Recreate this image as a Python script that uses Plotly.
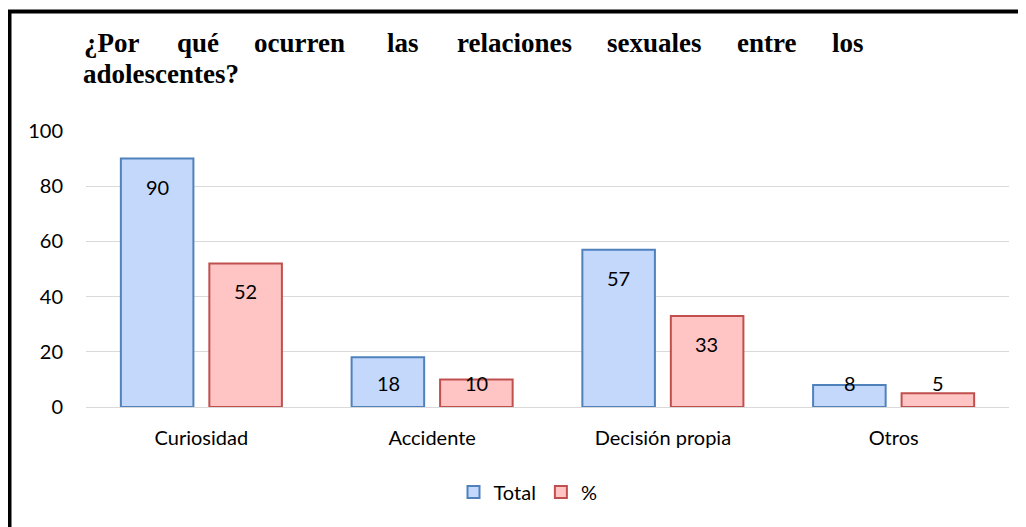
import plotly.graph_objects as go

# datos
categorias = ['Curiosidad', 'Accidente', 'Decisión propia', 'Otros']
total = [90, 18, 57, 8]
porcentaje = [52, 10, 33, 5]
y_ticks = [0, 20, 40, 60, 80, 100]

titulo_linea1 = ['¿Por', 'qué', 'ocurren', 'las', 'relaciones', 'sexuales', 'entre', 'los']
titulo_linea2 = 'adolescentes?'

COLORS = {
    'total_fill': '#c4d8fc',
    'total_line': '#4f81bd',
    'pct_fill': '#ffc4c4',
    'pct_line': '#c0504d',
    'grid': '#d9d9d9',
    'text': '#000000',
}

# la página HTML tiene un margen de 8 px en el body
OFF = 8
W, H = 1026 - OFF, 527 - OFF
# bordes del área de trazado en coordenadas de la ventana
PL, PR, PT, PB = 86, 1009, 131, 407
L, R, T, B = PL - OFF, W - (PR - OFF), PT - OFF, H - (PB - OFF)
PW, PH = PR - PL, PB - PT

def px_x(p):
    return (p - PL) / PW

def px_y(p):
    return (PB - p) / PH

FONT = "Lato, 'Open Sans', sans-serif"
SERIF = "'Liberation Serif', 'Times New Roman', serif"

fig = go.Figure()
fig.add_trace(go.Bar(
    x=categorias, y=total, name='Total',
    marker=dict(color=COLORS['total_fill'], line=dict(color=COLORS['total_line'], width=2)),
))
fig.add_trace(go.Bar(
    x=categorias, y=porcentaje, name='%',
    marker=dict(color=COLORS['pct_fill'], line=dict(color=COLORS['pct_line'], width=2)),
))

# etiquetas de valor (dentro del extremo de la barra, como en Excel)
px_per_unit = PH / 100
annotations = []
for i, vals in enumerate([total, porcentaje]):
    for cat, v in zip(categorias, vals):
        ylab = max(v - 28 / px_per_unit, 24 / px_per_unit)
        annotations.append(dict(
            x=cat, y=ylab, xref='x', yref='y', text=str(v), showarrow=False,
            xshift=(-44 if i == 0 else 44), yanchor='middle',
            font=dict(size=20, color=COLORS['text'], family=FONT),
        ))

# título justificado
word_x = [82, 175, 252, 385, 455, 605, 735, 830]
for wtxt, wx in zip(titulo_linea1, word_x):
    annotations.append(dict(
        x=px_x(wx), y=px_y(43), xref='paper', yref='paper', text=f'<b>{wtxt}</b>',
        showarrow=False, xanchor='left', yanchor='middle',
        font=dict(size=27, color='#000000', family=SERIF),
    ))
annotations.append(dict(
    x=px_x(81), y=px_y(74), xref='paper', yref='paper', text=f'<b>{titulo_linea2}</b>',
    showarrow=False, xanchor='left', yanchor='middle',
    font=dict(size=27, color='#000000', family=SERIF),
))

fig.update_layout(
    width=W, height=H,
    margin=dict(l=L, r=R, t=T, b=B),
    plot_bgcolor='white', paper_bgcolor='white',
    font=dict(family=FONT, size=20, color=COLORS['text']),
    barmode='group', bargap=0.233, bargroupgap=0.18,
    showlegend=True,
    legend=dict(orientation='h', x=px_x(528), xanchor='center', y=px_y(492), yanchor='middle',
                font=dict(size=20), itemwidth=30, traceorder='normal'),
    xaxis=dict(showgrid=False, showline=True, linecolor=COLORS['grid'], linewidth=1,
               ticks='', ticklabelstandoff=13, tickfont=dict(size=20)),
    yaxis=dict(range=[0, 100], tickvals=y_ticks, showgrid=True, gridcolor=COLORS['grid'],
               gridwidth=1, zeroline=False, showline=False, ticks='',
               ticklabelstandoff=22, tickfont=dict(size=20)),
    annotations=annotations,
    shapes=[dict(type='rect', xref='paper', yref='paper',
                 x0=px_x(9.5), x1=px_x(1040), y0=px_y(540), y1=px_y(11.5),
                 line=dict(color='black', width=4), fillcolor='rgba(0,0,0,0)', layer='above')],
)

fig.write_html("out.html")
